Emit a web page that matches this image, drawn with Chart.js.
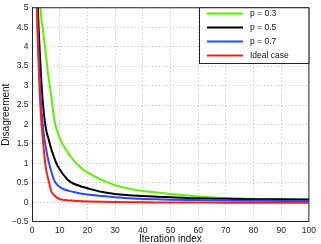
<!DOCTYPE html>
<html>
<head>
<meta charset="utf-8">
<script src="https://cdn.jsdelivr.net/npm/chart.js@4"></script>
<style>
  html, body { margin: 0; padding: 0; background: #fff; }
  #wrap { width: 321px; height: 244px; }
</style>
</head>
<body>
<div id="wrap"><canvas id="chart" width="321" height="244"></canvas></div>
<script>
// Data
const iterations = [1, 2, 3, 4, 5, 6, 7, 8, 9, 10, 11, 12, 13, 14, 16, 18, 20, 25, 30, 35, 40, 45, 50, 60, 70, 80, 90, 100]
const p03 = [14, 7.6, 5.1, 4.4, 3.8, 3.2, 2.7, 2.15, 1.85, 1.65, 1.5, 1.38, 1.27, 1.17, 1.0, 0.87, 0.77, 0.58, 0.44, 0.35, 0.29, 0.25, 0.21, 0.15, 0.11, 0.085, 0.075, 0.07]
const p05 = [9, 5.3, 3.6, 2.5, 1.9, 1.62, 1.36, 1.15, 0.97, 0.85, 0.74, 0.65, 0.57, 0.52, 0.45, 0.4, 0.36, 0.27, 0.21, 0.18, 0.16, 0.14, 0.13, 0.1, 0.09, 0.08, 0.075, 0.07]
const p07 = [8, 4.6, 2.9, 1.9, 1.4, 1.05, 0.78, 0.56, 0.46, 0.39, 0.35, 0.32, 0.3, 0.28, 0.25, 0.22, 0.2, 0.16, 0.13, 0.1, 0.085, 0.075, 0.065, 0.055, 0.045, 0.04, 0.035, 0.03]
const ideal = [7.5, 4.4, 2.5, 1.55, 0.88, 0.56, 0.27, 0.18, 0.12, 0.08, 0.065, 0.055, 0.048, 0.042, 0.035, 0.028, 0.022, 0.012, 0.005, 0, -0.003, -0.005, -0.006, -0.008, -0.01, -0.01, -0.01, -0.01]
const seriesLabels = ['p = 0.3', 'p = 0.5', 'p = 0.7', 'Ideal case']
const xTicks = [0, 10, 20, 30, 40, 50, 60, 70, 80, 90, 100]
const yTicks = [-0.5, 0, 0.5, 1, 1.5, 2, 2.5, 3, 3.5, 4, 4.5, 5]

const GREEN = '#5ef000'
const BLACK = '#000000'
const BLUE = '#2a48ff'
const RED = '#ff1c1c'
const AXIS = '#262626'
const GRID = '#bdbdbd'
const FONT = "'Liberation Sans', Arial, sans-serif"

const toPoints = (vals) => iterations.map((x, i) => ({ x, y: vals[i] }))

function series(label, vals, color, order) {
  return {
    label,
    data: toPoints(vals),
    borderColor: color,
    backgroundColor: color,
    borderWidth: 2,
    pointRadius: 0,
    fill: false,
    cubicInterpolationMode: 'monotone',
    order,
  }
}

// box on top/right plus a Matlab style legend in the upper right corner
const frameAndLegend = {
  id: 'frameAndLegend',
  afterDraw(chart) {
    const { ctx, chartArea: a } = chart
    ctx.save()
    ctx.strokeStyle = AXIS
    ctx.lineWidth = 1
    ctx.beginPath()
    ctx.moveTo(a.left, a.top)
    ctx.lineTo(a.right, a.top)
    ctx.lineTo(a.right, a.bottom)
    ctx.stroke()

    const boxL = 199.5, boxT = a.top, boxR = a.right, boxB = 63.5
    ctx.fillStyle = '#fff'
    ctx.fillRect(boxL, boxT, boxR - boxL, boxB - boxT)
    ctx.strokeStyle = AXIS
    ctx.strokeRect(boxL, boxT, boxR - boxL, boxB - boxT)

    ctx.font = '8.5px ' + FONT
    ctx.textBaseline = 'middle'
    ctx.textAlign = 'left'
    chart.data.datasets.forEach((ds, i) => {
      const y = 13.5 + i * 14
      ctx.strokeStyle = ds.borderColor
      ctx.lineWidth = 2
      ctx.beginPath()
      ctx.moveTo(207, y)
      ctx.lineTo(243, y)
      ctx.stroke()
      ctx.fillStyle = '#111'
      ctx.fillText(ds.label, 250, y + 0.5)
    })
    ctx.restore()
  },
}

new Chart(document.getElementById('chart'), {
  type: 'line',
  data: {
    datasets: [
      series(seriesLabels[0], p03, GREEN, 4),
      series(seriesLabels[1], p05, BLACK, 3),
      series(seriesLabels[2], p07, BLUE, 2),
      series(seriesLabels[3], ideal, RED, 1),
    ],
  },
  options: {
    responsive: false,
    animation: false,
    events: [],
    layout: { padding: { top: 0, right: 8.5, left: 0, bottom: 0 } },
    plugins: { legend: { display: false }, tooltip: { enabled: false } },
    scales: {
      x: {
        type: 'linear',
        min: 0,
        max: 100,
        afterBuildTicks: (s) => { s.ticks = xTicks.map((v) => ({ value: v })) },
        afterFit: (s) => { s.height = 22.3 },
        grid: { color: GRID, drawTicks: false },
        border: { display: true, color: AXIS, width: 1, dash: [1, 2.5] },
        ticks: { font: { family: FONT, size: 8.5, lineHeight: 1 }, color: '#222', padding: 5, maxRotation: 0, autoSkip: false },
        title: { display: true, text: 'Iteration index', font: { family: FONT, size: 10, lineHeight: 1 }, color: '#111', padding: { top: 0, bottom: 0 } },
      },
      y: {
        type: 'linear',
        min: -0.5,
        max: 5,
        afterBuildTicks: (s) => { s.ticks = yTicks.map((v) => ({ value: v })) },
        afterFit: (s) => { s.width = 32 },
        grid: { color: GRID, drawTicks: false },
        border: { display: true, color: AXIS, width: 1, dash: [1, 2.5] },
        ticks: {
          font: { family: FONT, size: 8.5, lineHeight: 1 },
          color: '#222',
          padding: 3.5,
          autoSkip: false,
          callback: (v) => (v < 0 ? '\u2212' + Math.abs(v) : String(v)),
        },
        title: { display: true, text: 'Disagreement', font: { family: FONT, size: 10, lineHeight: 1 }, color: '#111', padding: { top: 1, bottom: 0 } },
      },
    },
  },
  plugins: [frameAndLegend],
})
</script>
</body>
</html>
